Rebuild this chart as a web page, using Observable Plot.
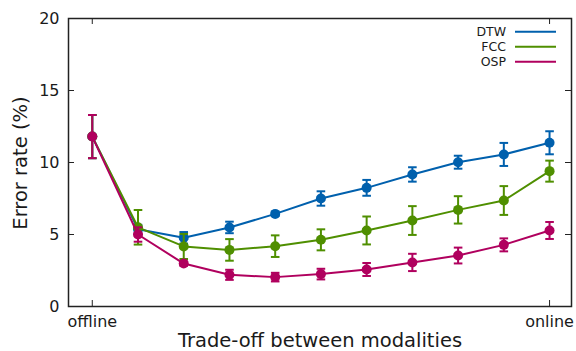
<!DOCTYPE html>
<html>
<head>
<meta charset="utf-8">
<script src="https://cdn.jsdelivr.net/npm/d3@7"></script>
<script src="https://cdn.jsdelivr.net/npm/@observablehq/plot@0.6"></script>
<style>
  html, body { margin: 0; padding: 0; background: #fff; }
  svg { display: block; }
</style>
</head>
<body>
<div id="chart"></div>
<script>
// ---- data ----
const steps = [0, 1, 2, 3, 4, 5, 6, 7, 8, 9, 10];
const xTickLabels = ["offline", "online"];
const xTickValues = [0, 10];
const yTicks = [0, 5, 10, 15, 20];
const seriesNames = ["DTW", "FCC", "OSP"];
const seriesColors = ["#0060ad", "#4f8f00", "#b0005e"];

const dtw    = [11.8, 5.37, 4.77, 5.49, 6.43, 7.50, 8.24, 9.17, 10.02, 10.56, 11.37];
const dtwErr = [1.5, 0.3, 0.4, 0.4, 0.15, 0.5, 0.55, 0.5, 0.45, 0.8, 0.8];
const fcc    = [11.8, 5.5, 4.17, 3.93, 4.19, 4.63, 5.28, 5.97, 6.71, 7.36, 9.40];
const fccErr = [1.5, 1.2, 0.87, 0.75, 0.75, 0.73, 0.97, 1.0, 0.95, 1.0, 0.73];
const osp    = [11.8, 5.0, 2.98, 2.2, 2.04, 2.25, 2.57, 3.06, 3.54, 4.28, 5.28];
const ospErr = [1.5, 0.5, 0.15, 0.35, 0.3, 0.37, 0.45, 0.6, 0.55, 0.45, 0.59];

const valuesBySeries = [dtw, fcc, osp];
const errBySeries = [dtwErr, fccErr, ospErr];

const rows = [];
seriesNames.forEach((name, s) => {
  steps.forEach((x, i) => {
    const v = valuesBySeries[s][i], e = errBySeries[s][i];
    rows.push({series: name, x, y: v, lo: v - e, hi: v + e});
  });
});

// ---- layout ----
const W = 576, H = 351;
const mL = 68, mR = 5, mT = 18, mB = 45;
const innerW = W - mL - mR, innerH = H - mT - mB;
const tickLen = 6;
const ink = "#1a1a1a";

const capSymbol = {
  draw(ctx, size) {
    const w = Math.sqrt(size / Math.PI);
    ctx.moveTo(-w, 0);
    ctx.lineTo(w, 0);
  }
};

const marks = [
  Plot.frame({stroke: "#222", strokeWidth: 1.5}),
  // inward ticks (gnuplot style, mirrored)
  Plot.tickY(yTicks, {y: d => d, insetRight: innerW - tickLen, stroke: "#222"}),
  Plot.tickY(yTicks, {y: d => d, insetLeft: innerW - tickLen, stroke: "#222"}),
  Plot.tickX(xTickValues, {x: d => d, insetTop: innerH - tickLen, stroke: "#222"}),
  Plot.tickX(xTickValues, {x: d => d, insetBottom: innerH - tickLen, stroke: "#222"}),
  Plot.axisY(yTicks, {tickSize: 0, tickPadding: 9, fontSize: 16, fill: ink, label: null}),
  Plot.axisX(xTickValues, {tickSize: 0, tickPadding: 9, fontSize: 16, fill: ink, label: null,
    tickFormat: d => xTickLabels[xTickValues.indexOf(d)]})
];

seriesNames.forEach((name, s) => {
  const data = rows.filter(r => r.series === name);
  const c = seriesColors[s];
  marks.push(
    Plot.line(data, {x: "x", y: "y", stroke: c, strokeWidth: 2}),
    Plot.link(data, {x1: "x", x2: "x", y1: "lo", y2: "hi", stroke: c, strokeWidth: 2}),
    Plot.dot(data, {x: "x", y: "lo", symbol: capSymbol, r: 4.3, stroke: c, strokeWidth: 2}),
    Plot.dot(data, {x: "x", y: "hi", symbol: capSymbol, r: 4.3, stroke: c, strokeWidth: 2}),
    Plot.dot(data, {x: "x", y: "y", r: 5, fill: c, stroke: "none"})
  );
});

const chart = Plot.plot({
  width: W, height: H,
  marginLeft: mL, marginRight: mR, marginTop: mT, marginBottom: mB,
  style: {fontFamily: "DejaVu Sans, sans-serif", background: "#fff", color: ink},
  x: {type: "linear", domain: [-0.52, 10.48], axis: null},
  y: {type: "linear", domain: [0, 20], axis: null},
  marks
});

const svg = d3.select(chart);

// axis titles
svg.append("text")
  .attr("x", 320).attr("y", 347)
  .attr("text-anchor", "middle")
  .attr("font-size", 19.5).attr("fill", ink)
  .text("Trade-off between modalities");
svg.append("text")
  .attr("transform", "translate(27,163) rotate(-90)")
  .attr("text-anchor", "middle")
  .attr("font-size", 19.5).attr("fill", ink)
  .text("Error rate (%)");

// legend
const leg = svg.append("g");
seriesNames.forEach((name, s) => {
  const y = 31.7 + s * 15;
  leg.append("text")
    .attr("x", 506).attr("y", y).attr("dy", "0.36em")
    .attr("text-anchor", "end")
    .attr("font-size", 12.5).attr("fill", ink)
    .text(name);
  leg.append("line")
    .attr("x1", 515).attr("x2", 556).attr("y1", y).attr("y2", y)
    .attr("stroke", seriesColors[s]).attr("stroke-width", 2);
});

document.getElementById("chart").appendChild(chart);
</script>
</body>
</html>
